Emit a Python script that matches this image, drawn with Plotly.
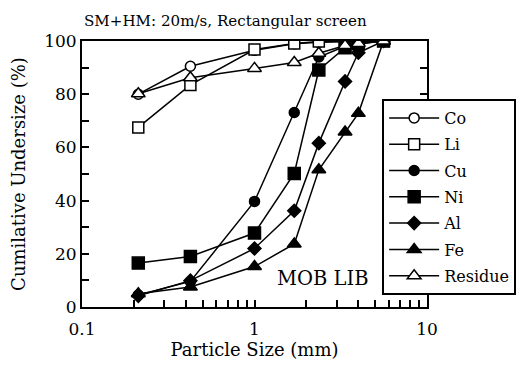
import plotly.graph_objects as go

sizes = [0.212, 0.425, 1.0, 1.7, 2.36, 3.35, 4.0, 5.6]
co = [80, 90.5, 96.5, 99, 99.5, 99.7, 99.8, 100]
li = [67.5, 83.5, 96.8, 99.1, 99.8, 99.8, 99.9, 100]
cu = [4.5, 9.6, 39.7, 73.1, 94, 98, 99, 100]
ni = [16.5, 19, 27.8, 50.2, 89.1, 97.5, 99, 100]
al = [4.2, 9.9, 22, 36.2, 61.6, 84.8, 95.6, 100]
fe = [5, 7.5, 15.2, 23.7, 51.6, 65.8, 72.8, 100]
residue = [80.2, 86.2, 89.7, 91.9, 95.4, 98.3, 99.1, 100]

series = [
    ("Co", co, "circle", "white", 10),
    ("Li", li, "square", "white", 11),
    ("Cu", cu, "circle", "black", 10),
    ("Ni", ni, "square", "black", 12),
    ("Al", al, "diamond", "black", 10),
    ("Fe", fe, "triangle-up", "black", 12),
    ("Residue", residue, "triangle-up", "white", 12),
]

FONT = "DejaVu Serif"
fig = go.Figure()
for name, vals, sym, fill, sz in series:
    fig.add_trace(go.Scatter(
        x=sizes, y=vals, name=name, mode="lines+markers", legendgroup=name,
        line=dict(color="black", width=1.5),
        marker=dict(symbol=sym, color=fill, size=sz,
                    line=dict(color="black", width=1.5)),
    ))

decade_minor = [m * 10 ** e for e in (-1, 0) for m in range(2, 10)]

fig.update_layout(
    width=525, height=365,
    margin=dict(l=74, r=106, t=33, b=66, autoexpand=False),
    paper_bgcolor="white", plot_bgcolor="white",
    font=dict(family=FONT, color="black", size=17),
    showlegend=True,
    legend=dict(x=0.87, y=0.782, xanchor="left", yanchor="top",
                bgcolor="white", bordercolor="black", borderwidth=2,
                font=dict(family=FONT, size=16, color="black"),
                itemwidth=50, tracegroupgap=2.5,
                entrywidth=150, entrywidthmode="pixels"),
    xaxis=dict(
        type="log", range=[-1, 1], automargin=False,
        tickvals=[0.1, 1, 10], ticktext=["0.1", "1", "10"],
        ticks="inside", ticklen=7, tickwidth=1.5, tickcolor="black",
        ticklabelstandoff=6,
        minor=dict(tickvals=decade_minor, ticks="inside", ticklen=7,
                   tickwidth=1.5, tickcolor="black"),
        showline=True, linecolor="black", linewidth=2, mirror=True,
        showgrid=False, zeroline=False,
        tickfont=dict(family=FONT, size=17),
        title=dict(text="Particle Size (mm)", font=dict(family=FONT, size=18), standoff=3),
    ),
    yaxis=dict(
        range=[0, 100], automargin=False,
        tickvals=[0, 20, 40, 60, 80, 100],
        ticks="inside", ticklen=7, tickwidth=1.5, tickcolor="black",
        minor=dict(dtick=10, ticks="inside", ticklen=7, tickwidth=1.5,
                   tickcolor="black"),
        showline=True, linecolor="black", linewidth=2, mirror="ticks",
        showgrid=False, zeroline=False,
        tickfont=dict(family=FONT, size=17),
        title=dict(text="Cumilative Undersize (%)", font=dict(family=FONT, size=18), standoff=14),
    ),
    annotations=[
        dict(text="SM+HM: 20m/s, Rectangular screen", xref="paper", yref="paper",
             x=0.0, y=1.075, xanchor="left", yanchor="middle", showarrow=False,
             font=dict(family=FONT, size=15.1)),
        dict(text="MOB LIB", xref="paper", yref="paper",
             x=0.696, y=0.109, xanchor="center", yanchor="middle", showarrow=False,
             font=dict(family=FONT, size=19.5)),
    ],
)

fig.write_html("out.html")
